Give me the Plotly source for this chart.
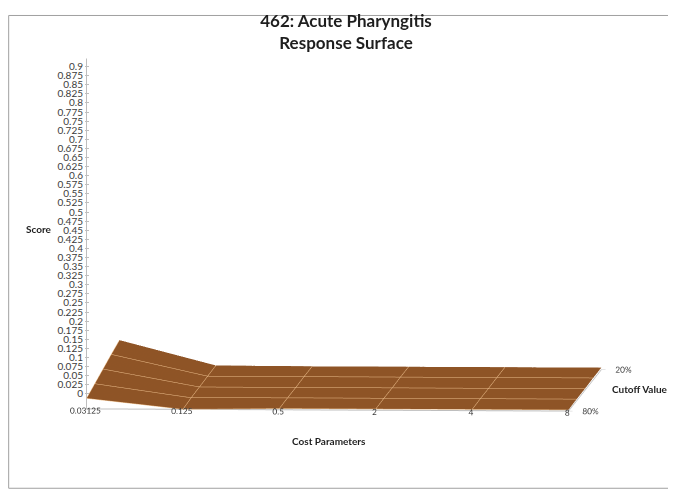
import plotly.graph_objects as go

# ----- data
cost_params = ["0.03125", "0.125", "0.5", "2", "4", "8"]
cutoff_values = ["80%", "65%", "50%", "35%", "20%"]   # front -> back
score = [
    [0.027, 0.000, 0.003, 0.003, 0.003, 0.003],   # 80%
    [0.038, 0.003, 0.004, 0.004, 0.004, 0.004],   # 65%
    [0.049, 0.004, 0.004, 0.004, 0.004, 0.004],   # 50%
    [0.060, 0.005, 0.005, 0.005, 0.005, 0.005],   # 35%
    [0.070, 0.006, 0.005, 0.005, 0.005, 0.005],   # 20%
]
score_ticks = [i * 0.025 for i in range(37)]
score_ticktext = [f"{v:g}" for v in score_ticks]

font_family = "Lato, 'Open Sans', sans-serif"
brown = "rgb(150,88,40)"
tan = "rgb(236,190,140)"
axis_grey = "rgb(190,190,190)"
frame_grey = "rgb(160,160,160)"
label_font = dict(family=font_family, size=10, color="rgb(60,60,60)")
title_font = dict(family=font_family, size=10, color="rgb(30,30,30)")

xi = list(range(len(cost_params)))
yi = list(range(len(cutoff_values)))

fig = go.Figure()
fig.add_trace(go.Surface(
    x=xi, y=yi, z=score,
    colorscale=[[0, brown], [1, brown]],
    showscale=False,
    lighting=dict(ambient=0.95, diffuse=0.25, specular=0.0, roughness=1.0, fresnel=0.0),
    lightposition=dict(x=-1000, y=-2000, z=4000),
    contours=dict(
        x=dict(show=True, start=0, end=len(xi) - 1, size=1, color=tan, width=3),
        y=dict(show=True, start=0, end=len(yi) - 1, size=1, color=tan, width=3),
    ),
    hoverinfo="skip",
))
# flat 2D axis carrying the Score tick labels (3D labels are drawn centred on the axis)
fig.add_trace(go.Scatter(x=[None], y=[None], showlegend=False, hoverinfo="skip"))

axis_common = dict(
    showbackground=False, showgrid=False, zeroline=False,
    showline=True, linecolor=axis_grey, linewidth=2,
    ticks="outside", tickcolor=axis_grey, ticklen=4,
    tickangle=0, tickfont=label_font,
    title=dict(text=""), showspikes=False,
)

# chart-area frame: left, top and bottom edges (the right one falls outside the picture)
frame = [
    dict(x0=0.001, x1=0.001, y0=1 - 486 / 496, y1=0.999),
    dict(x0=0.001, x1=1.0, y0=0.999, y1=0.999),
    dict(x0=0.001, x1=1.0, y0=1 - 486 / 496, y1=1 - 486 / 496),
]

fig.update_layout(
    width=676, height=496,
    paper_bgcolor="white",
    plot_bgcolor="rgba(0,0,0,0)",
    margin=dict(l=0, r=0, t=0, b=0),
    title=dict(
        text="<b>462: Acute Pharyngitis<br>Response Surface</b>",
        x=0.5, xanchor="center", y=0.962, yanchor="top",
        font=dict(family=font_family, size=17, color="rgb(30,30,30)"),
    ),
    scene=dict(
        domain=dict(x=[0.0376, 0.9576], y=[0.10, 1.0]),
        xaxis=dict(axis_common, tickvals=xi, ticktext=cost_params, range=[0, len(xi) - 1]),
        yaxis=dict(axis_common, tickvals=[0, len(yi) - 1],
                   ticktext=[cutoff_values[0], cutoff_values[-1]], range=[0, len(yi) - 1]),
        zaxis=dict(axis_common, ticks="", showticklabels=False, range=[0, 0.9]),
        aspectmode="manual",
        aspectratio=dict(x=2.22, y=2.53, z=1.615),
        camera=dict(
            projection=dict(type="orthographic"),
            eye=dict(x=0.15, y=-2.5, z=0.105),
            center=dict(x=0, y=0, z=-0.085),
            up=dict(x=0, y=0, z=1),
        ),
    ),
    xaxis=dict(visible=False, domain=[82 / 676, 0.9], range=[0, 1]),
    yaxis=dict(
        domain=[1 - 389 / 496, 1 - 53 / 496], range=[0, 0.9],
        tickvals=score_ticks, ticktext=score_ticktext,
        ticks="outside", ticklen=4, tickcolor=axis_grey, tickfont=label_font,
        showline=False, showgrid=False, zeroline=False,
    ),
    annotations=[
        dict(text="<b>Score</b>", x=31 / 676, y=1 - 220 / 496, xref="paper", yref="paper",
             xanchor="center", yanchor="middle", showarrow=False, font=title_font),
        dict(text="<b>Cost Parameters</b>", x=321 / 676, y=1 - 437 / 496,
             xref="paper", yref="paper", xanchor="center", yanchor="middle",
             showarrow=False, font=title_font),
        dict(text="<b>Cutoff Value</b>", x=632 / 676, y=1 - 384 / 496,
             xref="paper", yref="paper", xanchor="center", yanchor="middle",
             showarrow=False, font=title_font),
    ],
    shapes=[dict(type="line", xref="paper", yref="paper", layer="above",
                 line=dict(color=frame_grey, width=1), **edge) for edge in frame],
)

fig.write_html("out.html")
